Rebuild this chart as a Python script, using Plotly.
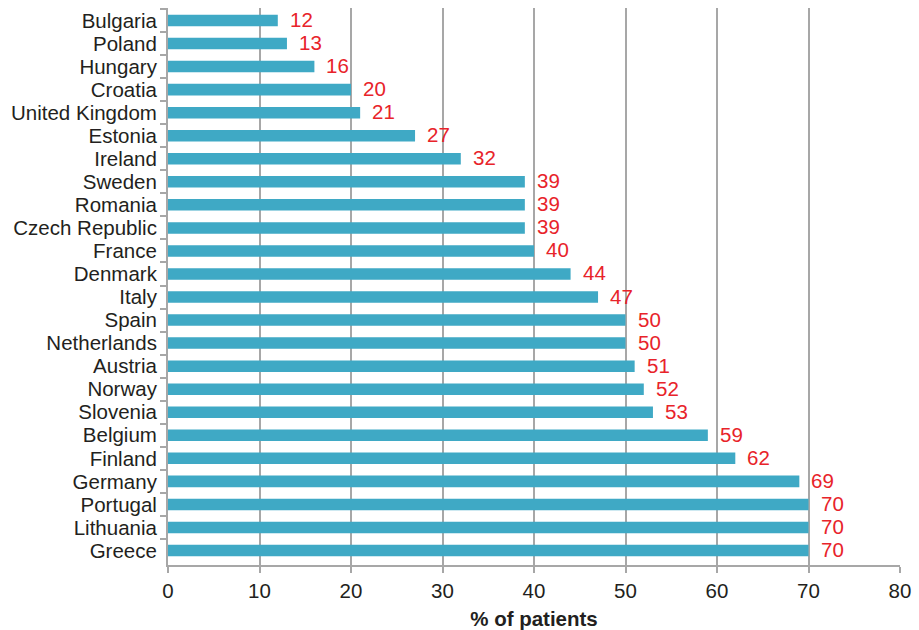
import plotly.graph_objects as go

countries = ["Bulgaria", "Poland", "Hungary", "Croatia", "United Kingdom", "Estonia",
             "Ireland", "Sweden", "Romania", "Czech Republic", "France", "Denmark",
             "Italy", "Spain", "Netherlands", "Austria", "Norway", "Slovenia",
             "Belgium", "Finland", "Germany", "Portugal", "Lithuania", "Greece"]
percent = [12, 13, 16, 20, 21, 27, 32, 39, 39, 39, 40, 44,
           47, 50, 50, 51, 52, 53, 59, 62, 69, 70, 70, 70]
x_ticks = [0, 10, 20, 30, 40, 50, 60, 70, 80]

BAR = "#3FA9C5"
RED = "#E8232A"
TEXT = "#231F20"
GRID = "#A7A7A7"
FONT = "Liberation Sans, Arial, sans-serif"
FS = 20.5

fig = go.Figure(go.Bar(
    x=percent, y=countries, orientation="h",
    marker=dict(color=BAR, line=dict(width=0)),
    width=0.5,
    hoverinfo="skip",
))

# value labels just to the right of each bar
for c, v in zip(countries, percent):
    fig.add_annotation(x=v, y=c, text=str(v), showarrow=False,
                       xanchor="left", yanchor="middle", xshift=10, yshift=1,
                       font=dict(family=FONT, size=FS, color=RED))

fig.update_layout(
    width=919, height=630,
    margin=dict(l=168, r=19, t=8, b=65),
    paper_bgcolor="white", plot_bgcolor="white",
    showlegend=False,
    font=dict(family=FONT, size=FS, color=TEXT),
)
fig.update_xaxes(
    range=[0, 80], tickvals=x_ticks, ticktext=[str(t) for t in x_ticks],
    showgrid=True, gridcolor=GRID, gridwidth=2,
    showline=True, linecolor=GRID, linewidth=2,
    ticks="outside", ticklen=6, tickcolor=GRID, tickwidth=2,
    tickfont=dict(family=FONT, size=FS, color=TEXT),
    zeroline=False, automargin=False,
    title=dict(text="<b>% of patients</b>", font=dict(family=FONT, size=FS, color=TEXT), standoff=12),
)
fig.update_yaxes(
    autorange="reversed", type="category",
    tickmode="linear", tick0=0, dtick=1,
    showgrid=False,
    showline=True, linecolor=GRID, linewidth=2,
    ticks="outside", ticklen=6, tickcolor=GRID, tickwidth=2,
    tickson="boundaries", ticklabelstandoff=5,
    tickfont=dict(family=FONT, size=FS, color=TEXT),
    automargin=False,
)

fig.write_html("out.html")
